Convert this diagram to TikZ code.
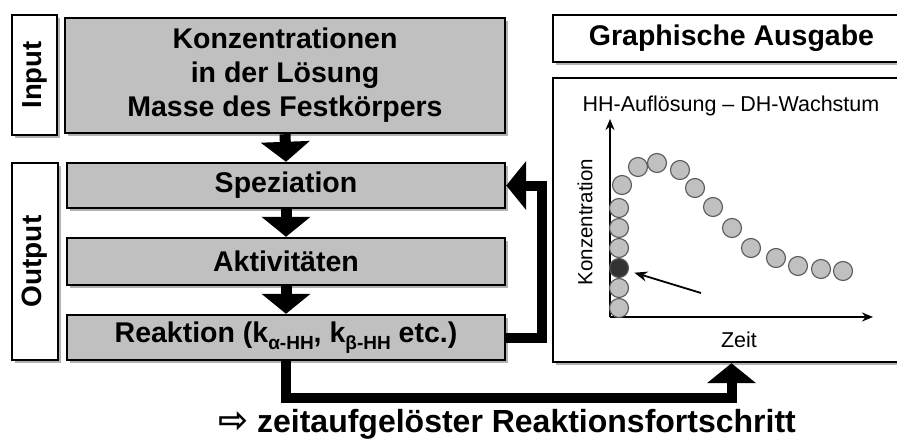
\documentclass[tikz,border=0pt]{standalone}
\usepackage{fontspec}
\setmainfont{Liberation Sans}
\newfontfamily\dejavu{DejaVu Sans}
\usetikzlibrary{arrows.meta,shadows}
\definecolor{boxgray}{HTML}{C0C0C0}
\definecolor{dotgray}{HTML}{C0C0C0}
\definecolor{dotdark}{HTML}{333333}
\begin{document}
\begin{tikzpicture}[x=1pt,y=-1pt,
  gbox/.style={draw, line width=2.4pt, fill=boxgray, inner sep=0pt,
    drop shadow={shadow xshift=2.5pt, shadow yshift=-2.5pt, fill=black!30, opacity=1},
    font=\bfseries\fontsize{28.5}{34}\selectfont, align=center},
  wbox/.style={gbox, fill=white},
  blockarrow/.style={line width=#1, -{Triangle[width=48pt,length=20pt]}},
  blockarrow/.default=11pt,
  axisline/.style={line width=1.8pt, -{Stealth[length=11pt,width=9pt]}},
  dot/.style={circle, draw=black!65, line width=1.1pt, fill=dotgray, minimum size=19pt, inner sep=0pt},
  darkdot/.style={dot, fill=dotdark},
  plaintext/.style={font=\fontsize{21.5}{25}\selectfont, inner sep=0pt}
]
\useasboundingbox (0,0) rectangle (897,439);
\clip (0,0) rectangle (897,439);
\fill[white] (0,0) rectangle (897,439);

% left column boxes
\node[wbox, minimum width=45pt, minimum height=120pt] (inbox) at (34.5,75) {};
\node[font=\bfseries\fontsize{27.5}{33}\selectfont, rotate=90, inner sep=0pt] (inlbl) at (inbox.center) {Input};
\node[wbox, minimum width=46pt, minimum height=197pt] (outbox) at (35,261.5) {};
\node[font=\bfseries\fontsize{28}{33}\selectfont, rotate=90, inner sep=0pt] (outlbl) at (outbox.center) {Output};

\node[gbox, minimum width=440pt, minimum height=115pt] (kon) at (285,75.5)
  {Konzentrationen\\in der Lösung\\Masse des Festkörpers};
\node[gbox, minimum width=438pt, minimum height=45pt] (spez) at (286,185.5) {Speziation};
\node[gbox, minimum width=438pt, minimum height=47pt] (akt) at (286,261.5) {Aktivitäten};
\node[gbox, minimum width=438pt, minimum height=45pt] (reak) at (286,337.5)
  {Reaktion (k\raisebox{-6.5pt}{\fontsize{19}{19}\selectfont α-HH}, k\raisebox{-6.5pt}{\fontsize{19}{19}\selectfont β-HH} etc.)};

% right boxes
\node[wbox, minimum width=357pt, minimum height=47pt] (graph) at (731.5,38.5) {Graphische Ausgabe};
\node[wbox, minimum width=357pt, minimum height=284pt] (plot) at (731.5,220) {};

% block arrows
\draw[blockarrow] (kon.south) -- (spez.north);
\draw[blockarrow] (spez.south) -- (akt.north);
\draw[blockarrow] (akt.south) -- (reak.north);
\draw[blockarrow=10pt] (reak.east) -- ++(36,0) |- (spez.east);
\draw[blockarrow=10pt] (reak.south) -- ++(0,37) -| (plot.south);

% plot content
\node[plaintext] (ptitle) at (731,106) {HH-Auflösung – DH-Wachstum};
\coordinate (orig) at (610,317);
\coordinate (ytop) at (610,119);
\coordinate (xend) at (873,317);
\draw[axisline] (orig) -- (ytop);
\draw[axisline] (orig) -- (xend);
\node[plaintext, font=\fontsize{20.5}{24}\selectfont, rotate=90] (ylbl) at (585,222) {Konzentration};
\node[plaintext] (xlbl) at (739,340) {Zeit};

\node[dot] (c1) at (619,308) {};
\node[dot] (c2) at (619,288) {};
\node[darkdot] (c3) at (619,268) {};
\node[dot] (c4) at (619,248) {};
\node[dot] (c5) at (619,228) {};
\node[dot] (c6) at (619,208) {};
\node[dot] (c7) at (622,185) {};
\node[dot] (c8) at (638,167) {};
\node[dot] (c9) at (657,163) {};
\node[dot] (c10) at (680,170) {};
\node[dot] (c11) at (695,188) {};
\node[dot] (c12) at (713,207) {};
\node[dot] (c13) at (732,228) {};
\node[dot] (c14) at (751,248) {};
\node[dot] (c15) at (776,258) {};
\node[dot] (c16) at (798,266) {};
\node[dot] (c17) at (821,269) {};
\node[dot] (c18) at (843,271) {};

\coordinate (pstart) at (701,293);
\draw[line width=1.8pt, -{Stealth[length=13pt,width=10pt]}, shorten >=6pt] (pstart) -- (c3);

% bottom caption
\node[font=\bfseries\fontsize{32}{36}\selectfont, inner sep=0pt, anchor=base] (caption) at (507,432)
  {{\dejavu\fontsize{36}{38}\selectfont ⇨} zeitaufgelöster Reaktionsfortschritt};
\end{tikzpicture}
\end{document}
